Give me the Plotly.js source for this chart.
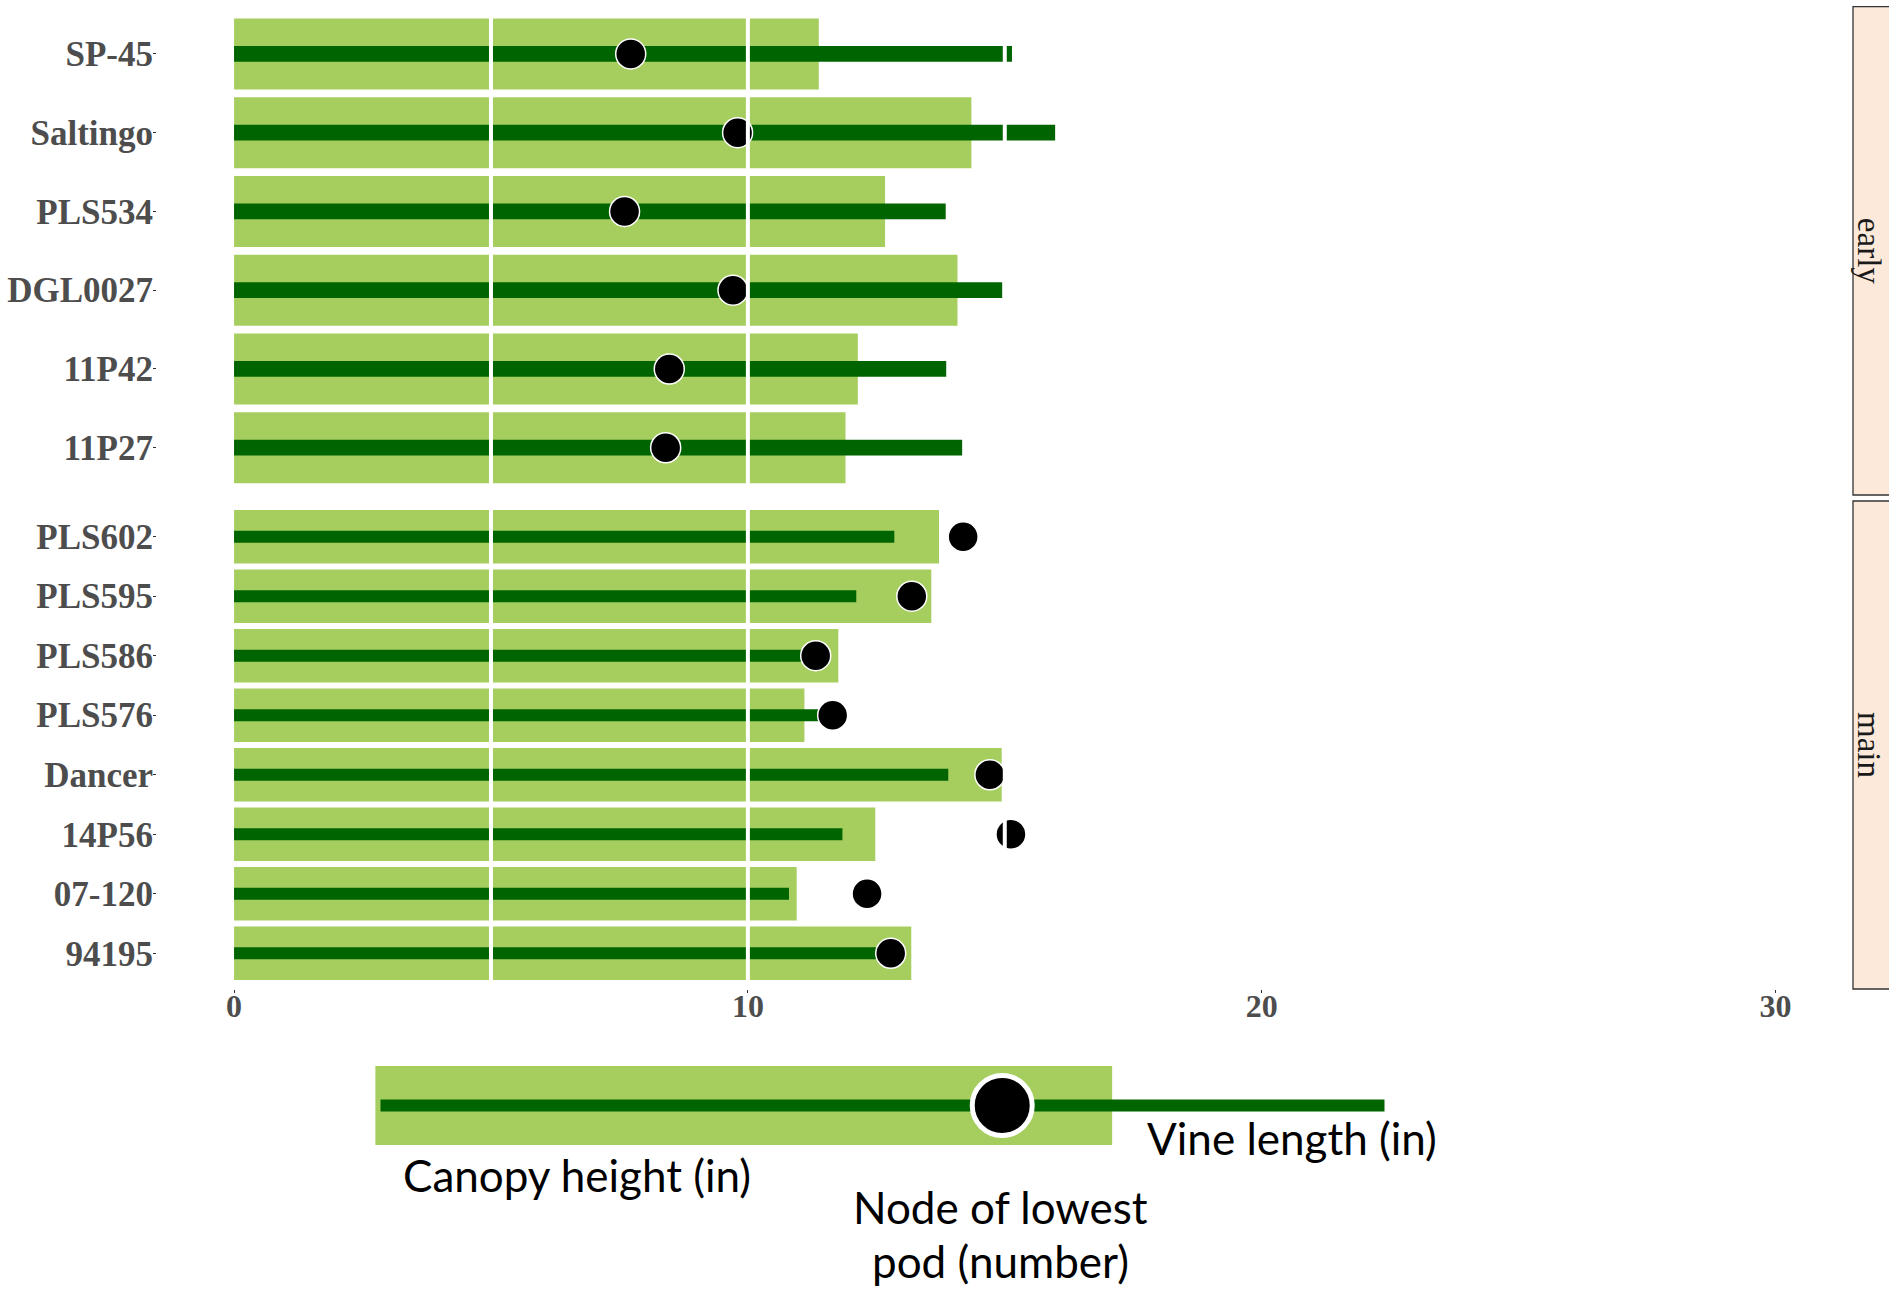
<!DOCTYPE html>
<html>
<head>
<meta charset="utf-8">
<script src="https://cdn.plot.ly/plotly-3.0.1.min.js"></script>
<style>html,body{margin:0;padding:0;background:#fff;}#chart{width:1889px;height:1292px;}</style>
</head>
<body>
<div id="chart"></div>
<script>
// ---- data ----
const earlyVarieties = ['SP-45', 'Saltingo', 'PLS534', 'DGL0027', '11P42', '11P27'];
const earlyCanopy = [11.38, 14.35, 12.67, 14.08, 12.14, 11.90];
const earlyVine = [15.14, 15.98, 13.85, 14.95, 13.86, 14.17];
const earlyNode = [7.72, 9.80, 7.60, 9.71, 8.47, 8.40];

const mainVarieties = ['PLS602', 'PLS595', 'PLS586', 'PLS576', 'Dancer', '14P56', '07-120', '94195'];
const mainCanopy = [13.72, 13.57, 11.76, 11.10, 14.94, 12.48, 10.95, 13.18];
const mainVine = [12.85, 12.11, 11.10, 11.40, 13.90, 11.84, 10.80, 12.50];
const mainNode = [14.19, 13.19, 11.32, 11.65, 14.71, 15.12, 12.32, 12.78];

const facetLabels = ['early', 'main'];
const xTickVals = [0, 10, 20, 30];
const gridVals = [5, 10, 15, 20, 25];

// key (legend graphic) values, in the same units as the x axis
const keyCanopyRange = [2.75, 17.09];
const keyVineRange = [2.85, 22.39];
const keyNode = [14.95];
const keyTexts = ['Vine length (in)', 'Canopy height (in)', 'Node of lowest', 'pod (number)'];

// ---- styles ----
const W = 1889, H = 1292;
const px = v => v / W;
const py = v => 1 - v / H;
const LIGHT = '#A6CE5F';
const DARK = '#006400';

function panelTraces(cats, canopy, vine, node, xa, ya) {
  return [
    {type: 'bar', orientation: 'h', y: cats, x: canopy, width: 0.9, xaxis: xa, yaxis: ya,
     marker: {color: LIGHT, line: {width: 0}}, hoverinfo: 'x+y', showlegend: false},
    {type: 'bar', orientation: 'h', y: cats, x: vine, width: 0.2, xaxis: xa, yaxis: ya,
     marker: {color: DARK, line: {width: 0}}, hoverinfo: 'x+y', showlegend: false},
    {type: 'scatter', mode: 'markers', y: cats, x: node, xaxis: xa, yaxis: ya, cliponaxis: false,
     marker: {color: 'black', size: 30, line: {color: 'white', width: 1.5}}, showlegend: false}
  ];
}

const traces = [].concat(
  panelTraces(earlyVarieties, earlyCanopy, earlyVine, earlyNode, 'x', 'y'),
  panelTraces(mainVarieties, mainCanopy, mainVine, mainNode, 'x', 'y2'),
  [
    {type: 'bar', orientation: 'h', y: [0], x: [keyCanopyRange[1] - keyCanopyRange[0]], base: [keyCanopyRange[0]],
     width: 0.9, xaxis: 'x3', yaxis: 'y3', marker: {color: LIGHT, line: {width: 0}}, hoverinfo: 'skip', showlegend: false},
    {type: 'bar', orientation: 'h', y: [0], x: [keyVineRange[1] - keyVineRange[0]], base: [keyVineRange[0]],
     width: 0.137, xaxis: 'x3', yaxis: 'y3', marker: {color: DARK, line: {width: 0}}, hoverinfo: 'skip', showlegend: false},
    {type: 'scatter', mode: 'markers', y: [0], x: keyNode, xaxis: 'x3', yaxis: 'y3', cliponaxis: false,
     marker: {color: 'black', size: 60, line: {color: 'white', width: 5}}, hoverinfo: 'skip', showlegend: false}
  ]
);

const xDomain = [px(157), px(1850)];
const xRange = [-1.5, 31.45];
const tickFontY = {family: 'Liberation Serif, Times New Roman, serif', size: 35, color: '#4D4D4D', weight: 'bold'};
const tickFontX = {family: 'Liberation Serif, Times New Roman, serif', size: 32, color: '#4D4D4D', weight: 'bold'};

const earlyDom = [py(495), py(6.7)];
const mainDom = [py(989), py(501)];

const shapes = [];
gridVals.forEach(v => {
  ['y', 'y2'].forEach(ax => {
    shapes.push({type: 'line', xref: 'x', yref: ax + ' domain', x0: v, x1: v, y0: 0, y1: 1,
                 line: {color: 'white', width: 4}, layer: 'above'});
  });
});
[earlyDom, mainDom].forEach(d => {
  shapes.push({type: 'rect', xref: 'paper', yref: 'paper', x0: px(1853), x1: px(1950), y0: d[0], y1: d[1],
               fillcolor: '#FDE9DA', line: {color: '#333333', width: 1.3}, layer: 'above'});
});

const stripFont = {family: 'Liberation Serif, Times New Roman, serif', size: 33, color: '#1A1A1A'};
const keyFont = {family: 'Lato, Open Sans, sans-serif', size: 44, color: '#000000'};

const annotations = [
  {text: facetLabels[0], xref: 'paper', yref: 'paper', x: px(1869), y: (earlyDom[0] + earlyDom[1]) / 2,
   textangle: 90, showarrow: false, font: stripFont, xanchor: 'center', yanchor: 'middle'},
  {text: facetLabels[1], xref: 'paper', yref: 'paper', x: px(1869), y: (mainDom[0] + mainDom[1]) / 2,
   textangle: 90, showarrow: false, font: stripFont, xanchor: 'center', yanchor: 'middle'},
  {text: keyTexts[0], xref: 'paper', yref: 'paper', x: px(1145), y: py(1138), xanchor: 'left', yanchor: 'middle',
   showarrow: false, font: keyFont},
  {text: keyTexts[1], xref: 'paper', yref: 'paper', x: px(401), y: py(1175), xanchor: 'left', yanchor: 'middle',
   showarrow: false, font: keyFont},
  {text: keyTexts[2], xref: 'paper', yref: 'paper', x: px(1000), y: py(1207), xanchor: 'center', yanchor: 'middle',
   showarrow: false, font: keyFont},
  {text: keyTexts[3], xref: 'paper', yref: 'paper', x: px(1000), y: py(1261), xanchor: 'center', yanchor: 'middle',
   showarrow: false, font: keyFont}
];

const yCommon = {
  type: 'category', categoryorder: 'array', showgrid: false, zeroline: false, showline: false,
  ticks: 'outside', ticklen: 3, tickwidth: 1, tickcolor: '#333333', tickfont: tickFontY,
  ticklabelstandoff: -7, anchor: 'x', fixedrange: true
};

const layout = {
  width: W, height: H,
  margin: {l: 0, r: 0, t: 0, b: 0, pad: 0},
  paper_bgcolor: 'white', plot_bgcolor: 'rgba(0,0,0,0)',
  barmode: 'overlay', showlegend: false,
  xaxis: {domain: xDomain, range: xRange, anchor: 'y2', tickvals: xTickVals, ticktext: xTickVals.map(String),
          ticks: 'outside', ticklen: 3, tickwidth: 1, tickcolor: '#333333', tickfont: tickFontX,
          showgrid: false, zeroline: false, showline: false, ticklabelstandoff: -14, fixedrange: true},
  yaxis: Object.assign({}, yCommon, {domain: earlyDom, categoryarray: earlyVarieties,
          range: [earlyVarieties.length - 0.4, -0.6]}),
  yaxis2: Object.assign({}, yCommon, {domain: mainDom, categoryarray: mainVarieties,
          range: [mainVarieties.length - 0.4, -0.6]}),
  xaxis3: {domain: xDomain, range: xRange, anchor: 'y3', visible: false, fixedrange: true},
  yaxis3: {domain: [py(1149.4), py(1061.6)], range: [-0.5, 0.5], anchor: 'x3', visible: false, fixedrange: true},
  shapes: shapes,
  annotations: annotations
};

Plotly.newPlot('chart', traces, layout, {displayModeBar: false, responsive: false});
</script>
</body>
</html>
